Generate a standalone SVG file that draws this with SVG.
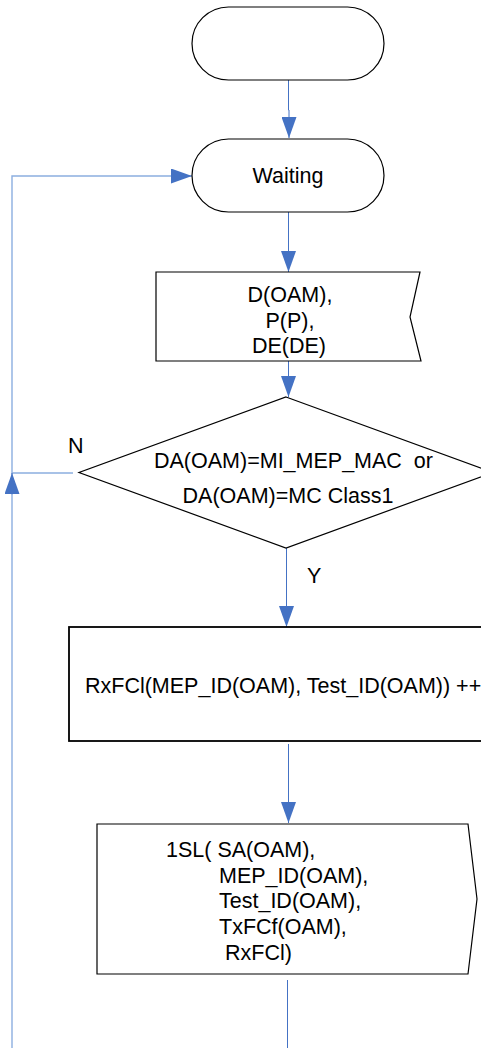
<svg xmlns="http://www.w3.org/2000/svg" width="481" height="1048" viewBox="0 0 481 1048">
<style>
.shape{fill:#fff;stroke:#000;stroke-width:1.2}
.box{fill:#fff;stroke:#000;stroke-width:1.8}
.t{font-family:"Liberation Sans",Arial,sans-serif;font-size:21.5px;fill:#000}
.c{text-anchor:middle}
.conn{fill:none;stroke:#4472C4;stroke-width:1}
.loop{fill:none;stroke:#8CAEE0;stroke-width:1.4}
</style>
<defs>
<marker id="arr" markerUnits="userSpaceOnUse" markerWidth="21" markerHeight="15" viewBox="0 0 21 15" refX="21" refY="7.5" orient="auto">
<path d="M0,0 L21,7.5 L0,15 z" fill="#4472C4"/>
</marker>
</defs>
<g id="connectors">
<path class="conn" d="M288.5,80 V110 H289 V138" marker-end="url(#arr)"/>
<path class="conn" d="M288.5,212 V272" marker-end="url(#arr)"/>
<path class="conn" d="M288.5,361 V397" marker-end="url(#arr)"/>
<path class="conn" d="M286.5,548 V627" marker-end="url(#arr)"/>
<path class="conn" d="M288.5,744 V823" marker-end="url(#arr)"/>
<path class="conn" d="M287.5,980 V1048"/>
<path class="loop" d="M73,473 H12 V176 H175"/>
<path class="conn" d="M175,176 H192" marker-end="url(#arr)"/>
<path class="loop" d="M12,1048 V495"/>
<path class="conn" d="M12,495 V473" marker-end="url(#arr)"/>
<text class="t" x="68" y="453">N</text>
<text class="t" x="307" y="583">Y</text>
</g>
<g id="start">
<rect class="shape" x="192" y="7" width="192" height="73" rx="36.5" ry="36.5"/>
</g>
<g id="waiting">
<rect class="shape" x="192" y="139" width="192" height="73" rx="36.5" ry="36.5"/>
<text class="t c" x="288" y="183">Waiting</text>
</g>
<g id="receive">
<polygon class="shape" points="156,272 420,272 410,317 421,361 156,361"/>
<text class="t c" x="290" y="302">D(OAM),</text>
<text class="t c" x="290" y="328">P(P),</text>
<text class="t c" x="289" y="353">DE(DE)</text>
</g>
<g id="decision">
<polygon class="shape" points="286,397 493,472.5 286,548 79,472.5"/>
<text class="t" x="154" y="468" xml:space="preserve">DA(OAM)=MI_MEP_MAC  or</text>
<text class="t c" x="288" y="503">DA(OAM)=MC Class1</text>
</g>
<g id="count">
<rect class="box" x="69" y="627" width="440" height="114"/>
<text class="t" x="85" y="693">RxFCl(MEP_ID(OAM), Test_ID(OAM)) ++</text>
</g>
<g id="send">
<polygon class="shape" points="97,824 468,824 477,899 468,974 97,974"/>
<text class="t" x="166" y="857">1SL( SA(OAM),</text>
<text class="t" x="219" y="883">MEP_ID(OAM),</text>
<text class="t" x="219" y="908">Test_ID(OAM),</text>
<text class="t" x="219" y="934">TxFCf(OAM),</text>
<text class="t" x="225" y="960">RxFCl)</text>
</g>
</svg>
